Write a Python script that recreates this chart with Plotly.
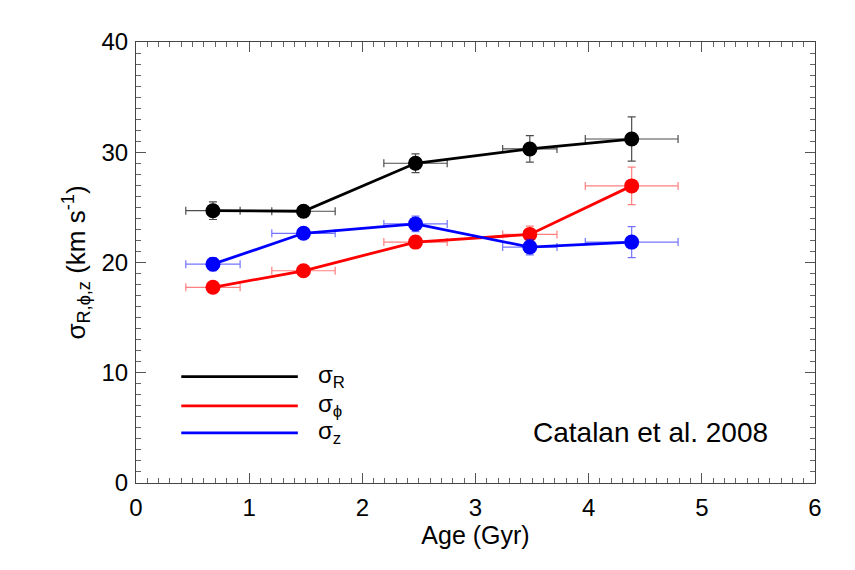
import plotly.graph_objects as go

# age bins (Gyr) and their half-widths
age = [0.68, 1.48, 2.47, 3.48, 4.38]
age_err = [0.24, 0.28, 0.28, 0.24, 0.41]

# velocity dispersions (km/s)
sigma_r = [24.7, 24.65, 29.0, 30.3, 31.2]
sigma_r_err = [0.8, 0.4, 0.85, 1.2, 2.0]
sigma_phi = [17.75, 19.25, 21.85, 22.55, 26.95]
sigma_phi_err = [0.4, 0.35, 0.55, 0.75, 1.7]
sigma_z = [19.85, 22.65, 23.5, 21.4, 21.85]
sigma_z_err = [0.6, 0.35, 0.7, 0.7, 1.4]

series = [
    ('σ<sub>R</sub>', sigma_r, sigma_r_err, 'black', 'rgba(0,0,0,0.7)'),
    ('σ<sub>ϕ</sub>', sigma_phi, sigma_phi_err, 'red', 'rgba(255,0,0,0.5)'),
    ('σ<sub>z</sub>', sigma_z, sigma_z_err, 'blue', 'rgba(0,0,255,0.55)'),
]

FONT = 'Liberation Sans, Arial, sans-serif'

fig = go.Figure()

for name, vals, errs, col, ecol in series:
    fig.add_trace(go.Scatter(
        x=age, y=vals,
        mode='lines+markers',
        name=name,
        line=dict(color=col, width=2.8),
        marker=dict(color=col, size=15),
        error_x=dict(type='data', array=age_err, color=ecol, thickness=1.2, width=4),
        error_y=dict(type='data', array=errs, color=ecol, thickness=1.2, width=4),
        showlegend=False,
    ))

# hand-drawn legend, as in the original figure
leg_y = [9.65, 7.0, 4.55]
for (name, _, _, col, _), ly in zip(series, leg_y):
    fig.add_shape(type='line', x0=0.40, x1=1.43, y0=ly, y1=ly,
                  xref='x', yref='y', line=dict(color=col, width=2.8))
    fig.add_annotation(x=1.59, y=ly, xref='x', yref='y', text=name,
                       showarrow=False, xanchor='left', yanchor='middle',
                       font=dict(size=24, color='black', family=FONT))

fig.add_annotation(x=5.6, y=4.55, xref='x', yref='y', text='Catalan et al. 2008',
                   showarrow=False, xanchor='right', yanchor='middle',
                   font=dict(size=28, color='black', family=FONT))

axis_common = dict(
    showline=True, linecolor='#444', linewidth=1, mirror='allticks',
    ticks='inside', ticklen=10, tickcolor='#555', tickwidth=1,
    showgrid=False, zeroline=False,
    tickfont=dict(size=24, family=FONT, color='black'),
)

fig.update_xaxes(
    range=[0, 6], dtick=1, tick0=0,
    minor=dict(dtick=0.1, ticklen=5, ticks='inside', tickcolor='#666', showgrid=False),
    title=dict(text='Age (Gyr)', font=dict(size=25, family=FONT, color='black'), standoff=0),
    ticklabelstandoff=3,
    **axis_common,
)
fig.update_yaxes(
    range=[0, 40], dtick=10, tick0=0,
    minor=dict(dtick=1, ticklen=5, ticks='inside', tickcolor='#666', showgrid=False),
    title=dict(text='σ<sub>R,ϕ,z</sub> (km s<sup>-1</sup>)',
               font=dict(size=26, family=FONT, color='black'), standoff=8),
    ticklabelstandoff=2,
    **axis_common,
)

# the page body adds an 8px offset, so the margins are shifted to compensate
fig.update_layout(
    width=855, height=570,
    margin=dict(l=128, r=48, t=34, b=95),
    paper_bgcolor='white', plot_bgcolor='white',
    font=dict(family=FONT, color='black'),
)

fig.write_html('out.html')
